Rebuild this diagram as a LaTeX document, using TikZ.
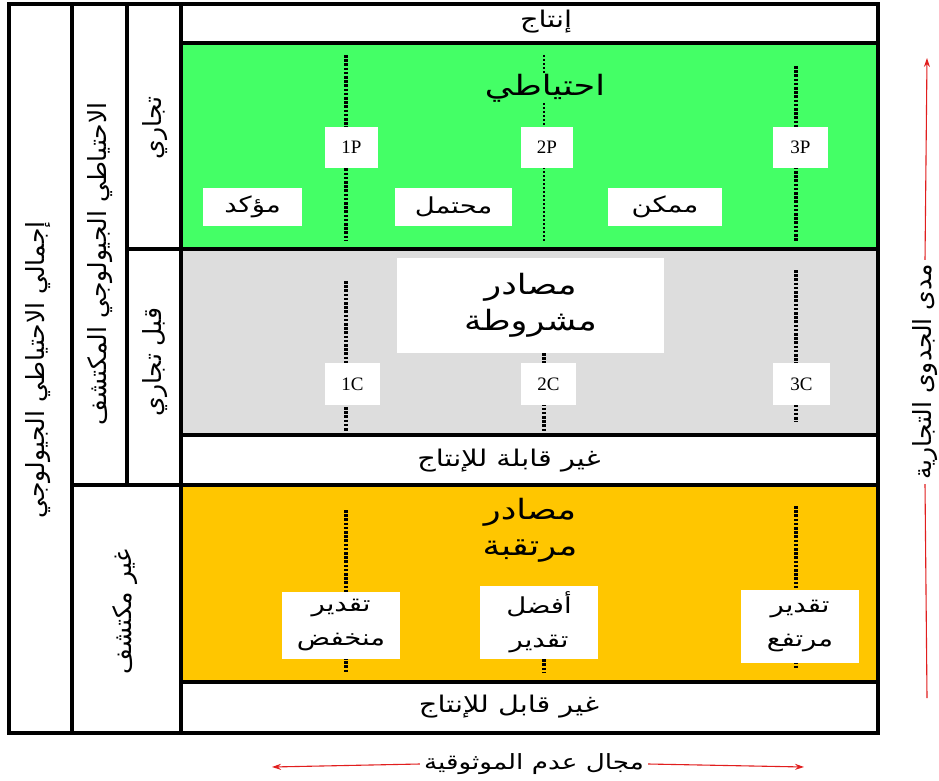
\documentclass[tikz,border=0pt]{standalone}
\usepackage{fontspec}
\setmainfont{Liberation Serif}
\newfontfamily\arabicfont[Script=Arabic, FakeStretch=1.25]{DejaVu Sans}
\newfontfamily\arabicside[Script=Arabic]{DejaVu Sans}
\TeXXeTstate=1
\usetikzlibrary{arrows.meta}
\newcommand{\ar}[1]{{\arabicfont\beginR #1\endR}}
\newcommand{\arside}[1]{{\arabicside\beginR #1\endR}}
\definecolor{resgreen}{RGB}{68,255,102}
\definecolor{resgray}{RGB}{221,221,221}
\definecolor{resorange}{RGB}{255,198,0}
\definecolor{arrowred}{RGB}{225,30,30}
\begin{document}
\begin{tikzpicture}[x=1pt,y=-1pt,
  frame/.style={line width=3.6pt, line cap=rect},
  dotline/.style={line width=3.4pt, dash pattern=on 2.6pt off 1.6pt},
  thindot/.style={line width=2pt, dash pattern=on 2pt off 2pt},
  lbl/.style={fill=white, inner sep=0pt, font=\fontsize{19}{22}\selectfont},
  wbox/.style={fill=white, inner sep=0pt, align=center, font=\fontsize{22}{34}\selectfont},
  big/.style={inner sep=1pt, align=center, font=\fontsize{28}{40}\selectfont},
  plain/.style={inner sep=1pt, font=\fontsize{23}{26}\selectfont},
  side/.style={inner sep=1pt, rotate=90, font=\fontsize{25}{28}\selectfont},
  redline/.style={draw=arrowred, line width=1.1pt},
  redarrow/.style={redline, -{Stealth[length=9pt,width=6pt]}}
]
\useasboundingbox (0,0) rectangle (939,781);
\fill[white] (0,0) rectangle (939,781);
% coloured bands
\fill[resgreen] (181,43) rectangle (878,249);
\fill[resgray] (181,249) rectangle (878,435);
\fill[resorange] (181,485) rectangle (878,682);

% dotted lines
\coordinate (g1t) at (346,55);  \coordinate (g1b) at (346,241);
\coordinate (g2t) at (544,55);  \coordinate (g2b) at (544,241);
\coordinate (g3t) at (796,66);  \coordinate (g3b) at (796,241);
\draw[dotline] (g1t) -- (g1b);
\draw[thindot] (g2t) -- (g2b);
\draw[dotline] (g3t) -- (g3b);
\coordinate (c1t) at (346,281); \coordinate (c1b) at (346,432);
\coordinate (c2t) at (544,353); \coordinate (c2b) at (544,432);
\coordinate (c3t) at (796,270); \coordinate (c3b) at (796,422);
\draw[dotline] (c1t) -- (c1b);
\draw[dotline] (c2t) -- (c2b);
\draw[dotline] (c3t) -- (c3b);
\coordinate (o1t) at (346,510); \coordinate (o1b) at (346,672);
\coordinate (o2t) at (544,655); \coordinate (o2b) at (544,672);
\coordinate (o3t) at (796,506); \coordinate (o3b) at (796,668);
\draw[dotline] (o1t) -- (o1b);
\draw[dotline] (o2t) -- (o2b);
\draw[dotline] (o3t) -- (o3b);

% top band
\node[plain] (prod) at (546,22) {\ar{إنتاج}};
% green
\node[big, fill=resgreen] (reserve) at (545,88) {\ar{احتياطي}};
\node[lbl, minimum width=53pt, minimum height=41pt] (p1) at (351.5,147.5) {1P};
\node[lbl, minimum width=52pt, minimum height=41pt] (p2) at (547,147.5) {2P};
\node[lbl, minimum width=55pt, minimum height=41pt] (p3) at (800.5,147.5) {3P};
\node[wbox, minimum width=99pt, minimum height=38pt] (proved) at (252.5,207) {\ar{مؤكد}};
\node[wbox, minimum width=117pt, minimum height=38pt] (probable) at (453.5,207) {\ar{محتمل}};
\node[wbox, minimum width=114pt, minimum height=38pt] (possible) at (665,207) {\ar{ممكن}};
% gray
\node[big, fill=white, minimum width=267pt, minimum height=95pt, inner sep=0pt] (contingent) at (530.5,305.5) {\ar{مصادر}\\[-4pt]\ar{مشروطة}};
\node[lbl, minimum width=55pt, minimum height=42pt] (q1) at (352.5,384) {1C};
\node[lbl, minimum width=55pt, minimum height=42pt] (q2) at (548.5,384) {2C};
\node[lbl, minimum width=57pt, minimum height=42pt] (q3) at (801.5,384) {3C};
\node[plain] (unprodA) at (509,461) {\ar{غير قابلة للإنتاج}};
% orange
\node[big, inner sep=0pt] (prospective) at (530,530) {\ar{مصادر}\\[-4pt]\ar{مرتقبة}};
\node[wbox, minimum width=118pt, minimum height=67pt] (low) at (341,625.5) {\ar{تقدير}\\\ar{منخفض}};
\node[wbox, minimum width=118pt, minimum height=73pt] (best) at (539,622.5) {\ar{أفضل}\\\ar{تقدير}};
\node[wbox, minimum width=118pt, minimum height=73pt] (high) at (800,626.5) {\ar{تقدير}\\\ar{مرتفع}};
\node[plain] (unprodB) at (509,707) {\ar{غير قابل للإنتاج}};

% side labels
\node[side] (total) at (38,370) {\arside{إجمالي الاحتياطي الجيولوجي}};
\node[side] (discovered) at (100,264) {\arside{الاحتياطي الجيولوجي المكتشف}};
\node[side] (commercial) at (155,128) {\arside{تجاري}};
\node[side] (subcomm) at (155,362) {\arside{قبل تجاري}};
\node[side] (undisc) at (125,612) {\arside{غير مكتشف}};

% frame
\draw[frame] (9,4) rectangle (878,733);
\draw[frame] (72,4) -- (72,733);
\draw[frame] (127,4) -- (127,485);
\draw[frame] (181,4) -- (181,733);
\draw[frame] (181,43) -- (878,43);
\draw[frame] (127,249) -- (878,249);
\draw[frame] (181,435) -- (878,435);
\draw[frame] (72,485) -- (878,485);
\draw[frame] (181,682) -- (878,682);

% axes
\node[side, fill=white, inner sep=4pt, font=\fontsize{25}{28}\selectfont] (chance) at (925,372) {\arside{مدى الجدوى التجارية}};
\coordinate (vbot) at (927,698);
\coordinate (vtop) at (927,58);
\draw[redline] (chance.west) -- (vbot);
\draw[redarrow] (chance.east) -- (vtop);
\node[plain, fill=white, inner sep=4pt, font=\fontsize{21}{24}\selectfont] (uncert) at (534,764) {\ar{مجال عدم الموثوقية}};
\coordinate (hleft) at (272,767);
\coordinate (hright) at (804,767);
\draw[redarrow] (uncert.west) -- (hleft);
\draw[redarrow] (uncert.east) -- (hright);
\end{tikzpicture}
\end{document}
